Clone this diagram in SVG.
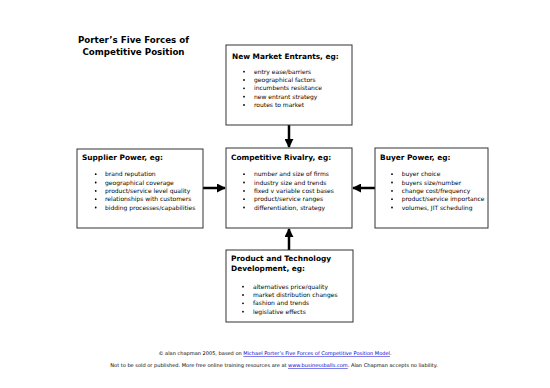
<svg xmlns="http://www.w3.org/2000/svg" width="550" height="388" viewBox="0 0 550 388">
<style>
.box{fill:#fff;stroke:#333;stroke-width:1}
.title{font-family:"DejaVu Sans",Verdana,sans-serif;font-weight:bold;font-size:8.7px;fill:#000}
.hd{font-family:"DejaVu Sans",Verdana,sans-serif;font-weight:bold;font-size:7.4px;fill:#000}
.it{font-family:"DejaVu Sans",Verdana,sans-serif;font-size:6px;fill:#000}
.bl{fill:#000}
.ft{font-family:"DejaVu Sans",Verdana,sans-serif;font-size:5.05px;fill:#000}
.lk{fill:#00c;text-decoration:underline}
.ar{stroke:#000;stroke-width:2.5;fill:none}
</style>
<defs>
<marker id="ah" viewBox="0 0 10 10" refX="9" refY="5" markerWidth="3.6" markerHeight="3.6" orient="auto" markerUnits="strokeWidth">
<path d="M0,0 L10,5 L0,10 z" fill="#000"/>
</marker>
</defs>
<rect width="550" height="388" fill="#fff"/>
<g id="title">
<text class="title" x="133.5" y="43" text-anchor="middle">Porter’s Five Forces of</text>
<text class="title" x="133.5" y="54.5" text-anchor="middle">Competitive Position</text>
</g>
<g id="connectors">
<line class="ar" x1="289" y1="125" x2="289" y2="147" marker-end="url(#ah)"/>
<line class="ar" x1="203" y1="188" x2="225" y2="188" marker-end="url(#ah)"/>
<line class="ar" x1="375" y1="188" x2="353" y2="188" marker-end="url(#ah)"/>
<line class="ar" x1="289" y1="251" x2="289" y2="229" marker-end="url(#ah)"/>
</g>
<g id="new-entrants">
<rect class="box" x="226" y="45" width="126" height="80"/>
<text class="hd" x="232" y="59">New Market Entrants, eg:</text>
<g class="bl"><circle cx="244" cy="71.7" r="0.9"/><circle cx="244" cy="80" r="0.9"/><circle cx="244" cy="88.3" r="0.9"/><circle cx="244" cy="96.7" r="0.9"/><circle cx="244" cy="105" r="0.9"/></g>
<text class="it" x="254" y="73.8">entry ease/barriers</text>
<text class="it" x="254" y="82.1">geographical factors</text>
<text class="it" x="254" y="90.4">incumbents resistance</text>
<text class="it" x="254" y="98.8">new entrant strategy</text>
<text class="it" x="254" y="107.1">routes to market</text>
</g>
<g id="supplier">
<rect class="box" x="77" y="149" width="126" height="79"/>
<text class="hd" x="82" y="159.5">Supplier Power, eg:</text>
<g class="bl"><circle cx="95.7" cy="174.2" r="0.9"/><circle cx="95.7" cy="182.5" r="0.9"/><circle cx="95.7" cy="190.9" r="0.9"/><circle cx="95.7" cy="199.2" r="0.9"/><circle cx="95.7" cy="207.5" r="0.9"/></g>
<text class="it" x="105" y="176.3">brand reputation</text>
<text class="it" x="105" y="184.6">geographical coverage</text>
<text class="it" x="105" y="193">product/service level quality</text>
<text class="it" x="105" y="201.3">relationships with customers</text>
<text class="it" x="105" y="209.6">bidding processes/capabilities</text>
</g>
<g id="rivalry">
<rect class="box" x="226" y="148" width="126" height="80"/>
<text class="hd" x="231" y="159.5">Competitive Rivalry, eg:</text>
<g class="bl"><circle cx="244" cy="174.2" r="0.9"/><circle cx="244" cy="182.5" r="0.9"/><circle cx="244" cy="190.9" r="0.9"/><circle cx="244" cy="199.2" r="0.9"/><circle cx="244" cy="207.5" r="0.9"/></g>
<text class="it" x="254" y="176.3">number and size of firms</text>
<text class="it" x="254" y="184.6">industry size and trends</text>
<text class="it" x="254" y="193">fixed v variable cost bases</text>
<text class="it" x="254" y="201.3">product/service ranges</text>
<text class="it" x="254" y="209.6">differentiation, strategy</text>
</g>
<g id="buyer">
<rect class="box" x="375" y="148" width="113" height="80"/>
<text class="hd" x="380" y="159.5">Buyer Power, eg:</text>
<g class="bl"><circle cx="392" cy="174.2" r="0.9"/><circle cx="392" cy="182.5" r="0.9"/><circle cx="392" cy="190.9" r="0.9"/><circle cx="392" cy="199.2" r="0.9"/><circle cx="392" cy="207.5" r="0.9"/></g>
<text class="it" x="401.7" y="176.3">buyer choice</text>
<text class="it" x="401.7" y="184.6">buyers size/number</text>
<text class="it" x="401.7" y="193">change cost/frequency</text>
<text class="it" x="401.7" y="201.3">product/service importance</text>
<text class="it" x="401.7" y="209.6">volumes, JIT scheduling</text>
</g>
<g id="product">
<rect class="box" x="226" y="250" width="127" height="72"/>
<text class="hd" x="231" y="261">Product and Technology</text>
<text class="hd" x="231" y="271">Development, eg:</text>
<g class="bl"><circle cx="243" cy="286.7" r="0.9"/><circle cx="243" cy="295" r="0.9"/><circle cx="243" cy="303.3" r="0.9"/><circle cx="243" cy="311.7" r="0.9"/></g>
<text class="it" x="253" y="288.8">alternatives price/quality</text>
<text class="it" x="253" y="297.1">market distribution changes</text>
<text class="it" x="253" y="305.4">fashion and trends</text>
<text class="it" x="253" y="313.8">legislative effects</text>
</g>
<g id="footer">
<text class="ft" x="275" y="355" text-anchor="middle">© alan chapman 2005, based on <tspan class="lk">Michael Porter’s Five Forces of Competitive Position Model</tspan>.</text>
<text class="ft" x="274" y="367" text-anchor="middle">Not to be sold or published.  More free online training resources are at <tspan class="lk">www.businessballs.com</tspan>.  Alan Chapman accepts no liability.</text>
</g>
</svg>
